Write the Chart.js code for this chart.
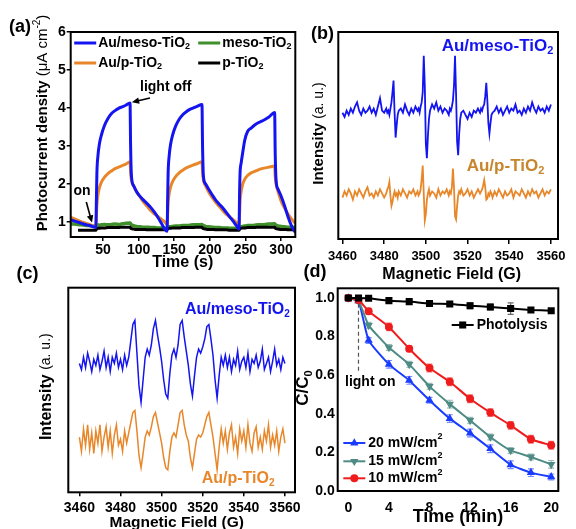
<!DOCTYPE html>
<html>
<head>
<meta charset="utf-8">
<script src="https://cdn.jsdelivr.net/npm/chart.js@4/dist/chart.umd.min.js"></script>
<style>
  html, body { margin: 0; padding: 0; background: #fff; }
  #wrap { position: relative; width: 576px; height: 529px; }
  #wrap canvas { position: absolute; left: 0; top: 0; }
</style>
</head>
<body>
<div id="wrap">
  <canvas id="ca" width="576" height="529"></canvas>
  <canvas id="cb" width="576" height="529"></canvas>
  <canvas id="cc" width="576" height="529"></canvas>
  <canvas id="cd" width="576" height="529"></canvas>
</div>
<script>
// ---- (a) photocurrent ----
const aTime = [5,10,15,20,25,30,35,40,
  40.8,41.5,43,45,48,52,57,62,67,72,77,82,88,
  88.8,90,93,97,102,107,112,117,122,127,132,137,140,
  140.8,141.5,143,145,148,152,157,162,167,172,177,182,189,
  189.8,191,194,198,203,208,213,218,223,228,233,238,241,
  241.8,242.5,244,246,249,253,258,263,268,273,278,283,291,
  291.8,293,296,300,305,310,315,320];
const aMesoAu = [1.05,1.02,0.99,0.96,0.93,0.91,0.88,0.85,
  1.6,2.3,2.75,3.05,3.3,3.53,3.72,3.85,3.93,3.99,4.03,4.07,4.13,
  3.0,2.2,1.95,1.8,1.67,1.57,1.48,1.38,1.26,1.12,0.96,0.8,0.75,
  1.6,2.3,2.75,3.05,3.3,3.52,3.7,3.82,3.9,3.96,4.0,4.04,4.09,
  3.0,2.2,2.0,1.87,1.72,1.58,1.47,1.37,1.25,1.13,1.01,0.88,0.81,
  1.8,2.3,2.55,2.8,3.15,3.38,3.47,3.55,3.61,3.65,3.7,3.76,3.88,
  2.8,2.1,1.85,1.68,1.42,1.12,0.88,0.72];
const aPAu = [1.12,1.08,1.04,1.0,0.97,0.94,0.9,0.87,
  1.15,1.45,1.72,1.9,2.05,2.17,2.27,2.34,2.4,2.44,2.48,2.52,2.58,
  2.3,2.1,1.95,1.8,1.66,1.52,1.41,1.3,1.21,1.14,1.07,0.99,0.93,
  1.2,1.5,1.75,1.92,2.07,2.19,2.29,2.36,2.42,2.46,2.5,2.53,2.58,
  2.3,2.1,1.95,1.8,1.65,1.52,1.41,1.3,1.2,1.12,1.05,0.97,0.91,
  1.2,1.55,1.8,1.98,2.12,2.22,2.29,2.33,2.37,2.4,2.42,2.44,2.47,
  2.2,2.0,1.78,1.55,1.36,1.2,1.07,0.96];
const aMeso = [0.95,0.94,0.93,0.92,0.91,0.9,0.89,0.88,
  0.9,0.91,0.92,0.91,0.92,0.93,0.92,0.93,0.94,0.93,0.95,0.96,0.97,
  0.95,0.92,0.9,0.88,0.87,0.86,0.86,0.85,0.85,0.84,0.84,0.83,0.83,
  0.85,0.86,0.87,0.87,0.88,0.89,0.89,0.9,0.9,0.91,0.92,0.92,0.93,
  0.92,0.9,0.88,0.87,0.86,0.85,0.85,0.84,0.84,0.83,0.83,0.82,0.82,
  0.84,0.86,0.87,0.88,0.89,0.9,0.9,0.91,0.92,0.92,0.93,0.94,0.95,
  0.93,0.91,0.89,0.88,0.87,0.86,0.86,0.85];
const aP = [null,null,0.78,0.78,0.78,0.78,0.78,0.78,
  0.8,0.82,0.83,0.83,0.84,0.84,0.85,0.85,0.85,0.85,0.86,0.86,0.86,
  0.84,0.82,0.81,0.8,0.8,0.8,0.79,0.79,0.79,0.79,0.79,0.79,0.79,
  0.81,0.82,0.83,0.83,0.84,0.84,0.84,0.85,0.85,0.85,0.85,0.86,0.86,
  0.84,0.82,0.81,0.8,0.8,0.79,0.79,0.79,0.79,0.78,0.78,0.78,0.78,
  0.8,0.82,0.83,0.84,0.84,0.85,0.85,0.85,0.86,0.86,0.86,0.86,0.86,
  0.84,0.82,0.81,0.8,0.8,0.79,0.79,0.78];

// ---- (b) EPR, DMPO-OH ----
const bField = [3460,3461,3462,3463,3464,3465,3466,3467,3468,3469,3470,3471,3472,3473,3474,3475,3476,3477,3478,3479,3480,
  3481,3481.5,3482,3482.5,3483,3483.5,3484,3484.5,3485,3485.5,3486,3486.5,3487,
  3488,3489,3490,3491,3492,3493,3494,3495,
  3496,3496.5,3497,3497.5,3498,3498.5,3499,3499.5,3500,3500.5,3501,3501.5,3502,
  3503,3504,3505,3506,3507,3508,3509,3510,
  3511,3511.5,3512,3512.5,3513,3513.5,3514,3514.5,3515,3515.5,3516,3516.5,3517,
  3518,3519,3520,3521,3522,3523,3524,3525,
  3526,3526.5,3527,3527.5,3528,3528.5,3529,3529.5,3530,3530.5,3531,3531.5,3532,
  3533,3534,3535,3536,3537,3538,3539,3540,3541,3542,3543,3544,3545,3546,3547,3548,3549,3550,3551,3552,3553,3554,3555,3556,3557,3558,3559,3560];
const bMesoAu = [61,59,62,60,63,61,64,66,62,60,63,61,62,64,61,63,60,64,68,62,61,
  63,61,62,60,63,66,71,76.5,61,49,55,60,62,
  63,61,65,62,60,63,61,64,
  62,63,61,64,66,71,88.5,74,46,39,50,58,62,
  65,63,66,62,64,61,63,62,
  60,63,62,64,67,74,88.5,70,47,40.5,51,58,61,
  62,60,58,61,59,62,61,63,
  61,63,62,64,65,69,75.5,67,56,51,56,60,61,
  62,64,61,63,60,62,64,61,63,62,65,61,62,60,63,61,64,62,66,63,61,64,62,63,61,64,62,65];
const bPAu = [20,23,21,24,22,19,23,21,24,22,20,23,25,21,22,20,23,21,24,22,20,
  22,24,25,27.5,21,16,18,21,23,21,22,20,23,
  21,24,22,20,23,22,24,21,
  23,21,22,24,29,35.5,22,9,12,19,22,24,21,
  23,22,20,24,21,23,22,24,
  21,23,22,25,34,25,11,9.5,16,21,23,22,24,
  21,22,24,21,23,20,22,24,
  22,23,24,26,28.5,25,19,19.5,22,21,23,22,20,
  23,21,24,22,20,23,21,22,24,20,23,22,21,24,22,20,23,21,24,22,23,20,22,24,21,23,22,24];

// ---- (c) EPR, DMPO-O2- ----
const cField = [3460,3461,3462,3463,3464,3465,3466,3467,3468,3469,3470,3471,3472,3473,3474,3475,3476,3477,3478,3479,
  3480,3481,3482,3483,3484,3485,3486,3487,3488,3489,3490,3491,3492,3493,3494,3495,3496,3497,3498,3499,
  3500,3501,3502,3503,3504,3505,3506,3507,3508,3509,3510,3511,3512,3513,3514,3515,3516,3517,3518,3519,
  3520,3521,3522,3523,3524,3525,3526,3527,3528,3529,3530,3531,3532,3533,3534,3535,3536,3537,3538,3539,
  3540,3541,3542,3543,3544,3545,3546,3547,3548,3549,3550,3551,3552,3553,3554,3555,3556,3557,3558,3559,3560];
const cMesoAu = [63,60,66,61,68,64,59,65,62,67,60,64,69,61,66,59,66,63,68,61,
  65,60,67,62,66,74,82,84,68,52,44,55,66,70,67,72,80,84,77,71,
  64,55,48,46,58,67,70,66,72,82,84,76,69,62,53,47,57,66,70,68,
  71,75,81,82,75,67,55,46,57,66,62,67,61,66,59,65,62,69,60,64,
  66,61,68,59,65,63,67,61,64,70,60,63,66,59,64,70,62,65,60,66,63];
const cPAu = [27,20,31,23,33,21,29,19,30,24,33,20,27,32,22,30,19,28,33,23,
  26,20,30,24,29,34,39,40,30,18,12,19,27,30,28,32,37,39,34,29,
  24,17,12,11,20,27,29,27,33,39,40,33,28,25,17,12,19,26,28,27,
  29,33,37,39,33,27,19,11,22,31,24,30,21,29,33,22,27,19,31,25,
  30,22,33,24,20,29,32,22,27,21,30,25,33,22,28,23,30,20,27,31,24];

// ---- (d) degradation ----
const dTime = [0,1,2,4,6,8,10,12,14,16,18,20];
const dPhotolysis = [1.0,1.0,0.998,0.986,0.981,0.971,0.969,0.96,0.953,0.945,0.938,0.934];
const d20 = [1.0,0.985,0.78,0.656,0.573,0.47,0.375,0.30,0.219,0.136,0.095,0.073];
const d15 = [1.0,0.985,0.858,0.743,0.656,0.542,0.45,0.366,0.28,0.21,0.176,0.138];
const d10 = [1.0,0.99,0.931,0.85,0.737,0.637,0.566,0.478,0.406,0.34,0.268,0.237];
const dErrPhotolysis = [0,0.005,0.005,0.008,0.008,0.01,0.01,0.015,0.015,0.03,0.01,0.008];
const dErr20 = [0,0.01,0.015,0.02,0.02,0.015,0.02,0.02,0.02,0.02,0.02,0.015];
const dErr15 = [0,0.01,0.015,0.015,0.015,0.015,0.02,0.015,0.015,0.015,0.015,0.02];
const dErr10 = [0,0.01,0.015,0.02,0.015,0.02,0.02,0.02,0.02,0.02,0.02,0.02];

const FONT = '"Liberation Sans", Arial, Helvetica, sans-serif';
const BLUE = '#1414f0', ORANGE = '#e8872a', GREEN = '#3f8f2a';
Chart.defaults.font.family = FONT;
Chart.defaults.font.weight = 'bold';
Chart.defaults.font.size = 14;
Chart.defaults.color = '#000';
Chart.defaults.animation = false;
Chart.defaults.plugins.legend.display = false;
Chart.defaults.plugins.tooltip.enabled = false;

const W = 576, H = 529;

function pts(xs, ys) {
  return xs.map((x, i) => ({ x: x, y: ys[i] }));
}

// puts the plot area at (l,t)-(r,b) on the shared page-sized canvas
function place(l, t, r, b, yw, xh) {
  return { padding: { left: l - yw, top: t, right: W - r, bottom: H - b - xh } };
}

function axis(min, max, step, o) {
  return {
    type: 'linear', min: min, max: max, display: o.hide ? false : true,
    border: { display: false },
    grid: { drawOnChartArea: false, drawTicks: o.tl > 0, tickLength: o.tl, color: '#000', lineWidth: 1.5 },
    ticks: {
      stepSize: step, includeBounds: false, padding: o.pad, maxRotation: 0, autoSkip: false,
      font: { size: o.fs || 14, weight: 'bold' },
      callback: o.fmt || (v => String(v))
    },
    afterFit: s => { if (o.w) s.width = o.w; if (o.h) s.height = o.h; }
  };
}

// draws runs of text with different fonts, e.g. subscripts
function rich(ctx, parts, x, y, align, rot) {
  ctx.save();
  ctx.translate(x, y);
  if (rot) ctx.rotate(rot);
  let w = 0;
  parts.forEach(p => { ctx.font = p.f; w += ctx.measureText(p.t).width; });
  let cx = align === 'center' ? -w / 2 : align === 'right' ? -w : 0;
  ctx.textAlign = 'left';
  ctx.textBaseline = 'middle';
  parts.forEach(p => {
    ctx.font = p.f;
    ctx.fillStyle = p.c || '#000';
    ctx.fillText(p.t, cx, p.dy || 0);
    cx += ctx.measureText(p.t).width;
  });
  ctx.restore();
}
const B = s => 'bold ' + s + 'px ' + FONT;
const N = s => s + 'px ' + FONT;

function tio(name, size, color) {
  return [{ t: name, f: B(size), c: color }, { t: '2', f: B(Math.round(size * 0.62)), c: color, dy: size * 0.28 }];
}

function arrow(ctx, x1, y1, x2, y2) {
  const a = Math.atan2(y2 - y1, x2 - x1), h = 8;
  ctx.beginPath();
  ctx.moveTo(x1, y1);
  ctx.lineTo(x2 - h * 0.7 * Math.cos(a), y2 - h * 0.7 * Math.sin(a));
  ctx.stroke();
  ctx.beginPath();
  ctx.moveTo(x2, y2);
  ctx.lineTo(x2 - h * Math.cos(a - 0.42), y2 - h * Math.sin(a - 0.42));
  ctx.lineTo(x2 - h * Math.cos(a + 0.42), y2 - h * Math.sin(a + 0.42));
  ctx.closePath();
  ctx.fill();
}

function marker(ctx, style, x, y, r, rot, color) {
  ctx.save();
  ctx.fillStyle = color;
  ctx.beginPath();
  if (style === 'circle') {
    ctx.arc(x, y, r, 0, Math.PI * 2);
  } else if (style === 'rect') {
    const s = r * Math.SQRT1_2;
    ctx.rect(x - s, y - s, 2 * s, 2 * s);
  } else {
    const k = rot ? -1 : 1;
    ctx.moveTo(x, y - k * r);
    ctx.lineTo(x + r * 0.866, y + k * r * 0.5);
    ctx.lineTo(x - r * 0.866, y + k * r * 0.5);
    ctx.closePath();
  }
  ctx.fill();
  ctx.restore();
}

const frame = {
  id: 'frame',
  afterDraw(c) {
    const a = c.chartArea, ctx = c.ctx;
    ctx.save();
    ctx.strokeStyle = '#000';
    ctx.lineWidth = 2;
    ctx.strokeRect(a.left, a.top, a.right - a.left, a.bottom - a.top);
    ctx.restore();
  }
};

// ---------- (a) ----------
new Chart(document.getElementById('ca'), {
  type: 'line',
  data: {
    datasets: [
      { data: pts(aTime, aMesoAu), borderColor: BLUE, borderWidth: 3 },
      { data: pts(aTime, aPAu), borderColor: ORANGE, borderWidth: 3 },
      { data: pts(aTime, aP), borderColor: '#000', borderWidth: 3 },
      { data: pts(aTime, aMeso), borderColor: GREEN, borderWidth: 3.5 }
    ]
  },
  options: {
    responsive: false, devicePixelRatio: 1,
    layout: place(70.7, 32, 295.3, 237, 40, 30),
    elements: { point: { radius: 0 }, line: { cubicInterpolationMode: 'monotone' } },
    scales: {
      x: axis(4.7, 320, 50, { tl: 4, pad: 1, h: 30 }),
      y: axis(0.6, 6, 1, { tl: 4, pad: 1, w: 40 })
    }
  },
  plugins: [frame, {
    id: 'textA',
    afterDraw(c) {
      const ctx = c.ctx, a = c.chartArea, sx = c.scales.x, sy = c.scales.y;
      // legend
      const rows = [
        [BLUE, 'Au/meso-TiO', 0, 0], [GREEN, 'meso-TiO', 1, 0],
        [ORANGE, 'Au/p-TiO', 0, 1], ['#000', 'p-TiO', 1, 1]
      ];
      rows.forEach(r => {
        const lx = a.left + (r[2] ? 127.5 : 3.5), ly = a.top + 11 + r[3] * 20;
        ctx.save();
        ctx.strokeStyle = r[0]; ctx.lineWidth = 3;
        ctx.beginPath(); ctx.moveTo(lx, ly); ctx.lineTo(lx + 22, ly); ctx.stroke();
        ctx.restore();
        rich(ctx, tio(r[1], 14, '#000'), lx + 24, ly, 'left');
      });
      // annotations
      ctx.save();
      ctx.fillStyle = '#000'; ctx.strokeStyle = '#000'; ctx.lineWidth = 1.6;
      rich(ctx, [{ t: 'light off', f: B(14) }], sx.getPixelForValue(138), sy.getPixelForValue(4.54), 'center');
      arrow(ctx, sx.getPixelForValue(116), sy.getPixelForValue(4.26), sx.getPixelForValue(90.5), sy.getPixelForValue(4.15));
      rich(ctx, [{ t: 'on', f: B(14) }], sx.getPixelForValue(20.5), sy.getPixelForValue(1.8), 'center');
      arrow(ctx, sx.getPixelForValue(26.6), sy.getPixelForValue(1.52), sx.getPixelForValue(34.6), sy.getPixelForValue(0.98));
      ctx.restore();
      // titles
      rich(ctx, [{ t: 'Time (s)', f: B(16) }], a.left + 112, a.bottom + 26, 'center');
      rich(ctx, [
        { t: 'Photocurrent density ', f: B(15) },
        { t: '(\u03bcA cm', f: N(15) },
        { t: '-2', f: N(10), dy: -6 },
        { t: ')', f: N(15) }
      ], a.left - 27.7, a.top + 91, 'center', -Math.PI / 2);
      rich(ctx, [{ t: '(a)', f: B(18) }], 20, 27, 'center');
    }
  }]
});

// ---------- (b) ----------
new Chart(document.getElementById('cb'), {
  type: 'line',
  data: {
    datasets: [
      { data: pts(bField, bMesoAu), borderColor: BLUE, borderWidth: 1.8 },
      { data: pts(bField, bPAu), borderColor: ORANGE, borderWidth: 1.8 }
    ]
  },
  options: {
    responsive: false, devicePixelRatio: 1,
    layout: place(338.3, 32, 558, 239, 0, 30),
    elements: { point: { radius: 0 }, line: { tension: 0 } },
    scales: {
      x: axis(3458, 3563.4, 20, { tl: 5, pad: 5, h: 30, fs: 13 }),
      y: axis(0, 100, 20, { hide: true, tl: 0, pad: 0 })
    }
  },
  plugins: [frame, {
    id: 'textB',
    afterDraw(c) {
      const ctx = c.ctx, a = c.chartArea;
      rich(ctx, tio('Au/meso-TiO', 17, BLUE), a.left + 103.4, a.top + 14.7, 'left');
      rich(ctx, tio('Au/p-TiO', 17, '#c8862c'), a.left + 128.4, a.top + 134.7, 'left');
      rich(ctx, [{ t: 'Magnetic Field (G)', f: B(16) }], a.left + 113.4, a.bottom + 36, 'center');
      rich(ctx, [{ t: 'Intensity ', f: B(15) }, { t: '(a. u.)', f: N(14) }],
        a.left - 19.3, a.top + 101.5, 'center', -Math.PI / 2);
      rich(ctx, [{ t: '(b)', f: B(18) }], 322.5, 34, 'center');
    }
  }]
});

// ---------- (c) ----------
new Chart(document.getElementById('cc'), {
  type: 'line',
  data: {
    datasets: [
      { data: pts(cField, cMesoAu), borderColor: BLUE, borderWidth: 1.5 },
      { data: pts(cField, cPAu), borderColor: ORANGE, borderWidth: 1.5 }
    ]
  },
  options: {
    responsive: false, devicePixelRatio: 1,
    layout: place(68.3, 287.7, 295, 492.3, 0, 30),
    elements: { point: { radius: 0 }, line: { tension: 0 } },
    scales: {
      x: axis(3454.6, 3564.9, 20, { tl: 4, pad: 3, h: 30, fs: 14 }),
      y: axis(0, 100, 20, { hide: true, tl: 0, pad: 0 })
    }
  },
  plugins: [frame, {
    id: 'textC',
    afterDraw(c) {
      const ctx = c.ctx, a = c.chartArea;
      rich(ctx, tio('Au/meso-TiO', 16, BLUE), a.left + 116.7, a.top + 22.3, 'left');
      rich(ctx, tio('Au/p-TiO', 16, ORANGE), a.left + 133.4, a.top + 190.6, 'left');
      rich(ctx, [{ t: 'Magnetic Field (G)', f: B(15.5) }], a.left + 108.4, a.bottom + 30.7, 'center');
      rich(ctx, [{ t: 'Intensity ', f: B(16) }, { t: '(a. u.)', f: N(14) }],
        a.left - 21.8, a.top + 99, 'center', -Math.PI / 2);
      rich(ctx, [{ t: '(c)', f: B(18) }], 27.5, 274.5, 'center');
    }
  }]
});

// ---------- (d) ----------
const RED = '#ee1c1c', TEAL = '#4e8b84', DBLUE = '#1a3cff';
const dSets = [
  { label: 'Photolysis', data: pts(dTime, dPhotolysis), err: dErrPhotolysis, borderColor: '#000', backgroundColor: '#000', pointStyle: 'rect', pointRadius: 5, pointRotation: 0 },
  { label: '10 mW/cm', data: pts(dTime, d10), err: dErr10, borderColor: RED, backgroundColor: RED, pointStyle: 'circle', pointRadius: 4, pointRotation: 0 },
  { label: '15 mW/cm', data: pts(dTime, d15), err: dErr15, borderColor: TEAL, backgroundColor: TEAL, pointStyle: 'triangle', pointRadius: 4.8, pointRotation: 180 },
  { label: '20 mW/cm', data: pts(dTime, d20), err: dErr20, borderColor: DBLUE, backgroundColor: DBLUE, pointStyle: 'triangle', pointRadius: 4.8, pointRotation: 0 }
];
dSets.forEach(s => { s.borderWidth = 2; s.pointBorderWidth = 0; s.tension = 0.15; });

new Chart(document.getElementById('cd'), {
  type: 'line',
  data: { datasets: dSets },
  options: {
    responsive: false, devicePixelRatio: 1,
    layout: place(337.7, 288.3, 558.3, 491, 40, 30),
    scales: {
      x: axis(-1.05, 20.7, 4, { tl: 0, pad: 9, h: 30 }),
      y: axis(0, 1.05, 0.2, { tl: 0, pad: 3, w: 40, fmt: v => v.toFixed(1) })
    }
  },
  plugins: [frame, {
    id: 'errBars',
    beforeDatasetsDraw(c) {
      const ctx = c.ctx, sx = c.scales.x, sy = c.scales.y;
      ctx.save();
      ctx.lineWidth = 1.2;
      c.data.datasets.forEach(ds => {
        ctx.strokeStyle = ds.borderColor;
        ctx.globalAlpha = 0.6;
        ds.data.forEach((p, i) => {
          const e = ds.err[i];
          if (!e) return;
          const x = sx.getPixelForValue(p.x), y1 = sy.getPixelForValue(p.y - e), y2 = sy.getPixelForValue(p.y + e);
          ctx.beginPath();
          ctx.moveTo(x, y1); ctx.lineTo(x, y2);
          ctx.moveTo(x - 3, y1); ctx.lineTo(x + 3, y1);
          ctx.moveTo(x - 3, y2); ctx.lineTo(x + 3, y2);
          ctx.stroke();
        });
      });
      ctx.restore();
    },
    afterDraw(c) {
      const ctx = c.ctx, a = c.chartArea, sx = c.scales.x, sy = c.scales.y;
      // light on marker
      ctx.save();
      ctx.strokeStyle = '#555'; ctx.lineWidth = 1.2; ctx.setLineDash([4, 3]);
      ctx.beginPath();
      ctx.moveTo(sx.getPixelForValue(1), sy.getPixelForValue(0.97));
      ctx.lineTo(sx.getPixelForValue(1), sy.getPixelForValue(0.617));
      ctx.stroke();
      ctx.restore();
      rich(ctx, [{ t: 'light on', f: B(14) }], a.left + 7.3, sy.getPixelForValue(0.565), 'left');
      // legends
      const item = (ds, lx, ly, text, sup) => {
        ctx.save();
        ctx.strokeStyle = ds.borderColor; ctx.lineWidth = 2;
        ctx.beginPath(); ctx.moveTo(lx, ly); ctx.lineTo(lx + 22, ly); ctx.stroke();
        ctx.restore();
        marker(ctx, ds.pointStyle, lx + 11, ly, ds.pointRadius, ds.pointRotation, ds.borderColor);
        const parts = [{ t: text, f: B(14) }];
        if (sup) parts.push({ t: '2', f: B(9), dy: -6 });
        rich(ctx, parts, lx + 25, ly, 'left');
      };
      item(dSets[0], a.left + 114, a.top + 36.7, 'Photolysis', false);
      item(dSets[3], a.left + 5.6, a.top + 154.7, '20 mW/cm', true);
      item(dSets[2], a.left + 5.6, a.top + 173, '15 mW/cm', true);
      item(dSets[1], a.left + 5.6, a.top + 190, '10 mW/cm', true);
      // titles
      rich(ctx, [{ t: 'Time (min)', f: B(18) }], a.left + 120.3, a.bottom + 25.7, 'center');
      rich(ctx, [{ t: 'C/C', f: B(17) }, { t: '0', f: B(11), dy: 5 }],
        a.left - 34.2, a.top + 99.7, 'center', -Math.PI / 2);
      rich(ctx, [{ t: '(d)', f: B(18) }], 315, 272, 'center');
    }
  }]
});
</script>
</body>
</html>
